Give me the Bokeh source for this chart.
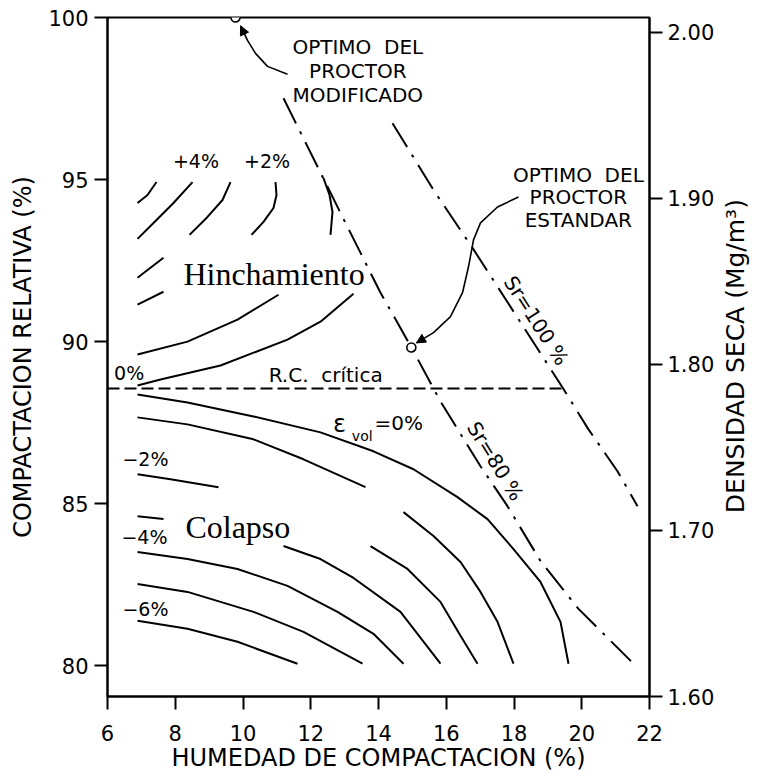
import math
from bokeh.plotting import figure
from bokeh.layouts import row
from bokeh.models import Range1d, LinearAxis, FixedTicker, PrintfTickFormatter, Arrow, NormalHead
from bokeh.core.properties import value
from bokeh.embed import file_html
from bokeh.resources import INLINE

# ---------------- data ----------------
x_ticks = [6, 8, 10, 12, 14, 16, 18, 20, 22]
y_ticks = [80, 85, 90, 95, 100]
dens_ticks = [1.60, 1.70, 1.80, 1.90, 2.00]

# swelling contours (visible pieces)
s1_x = [6.886, 7.181, 7.447];               s1_y = [94.277, 94.523, 94.923]
s2_x = [6.886, 7.358, 7.948, 8.509];        s2_y = [93.169, 93.662, 94.277, 94.923]
s3_x = [8.421, 8.952, 9.395, 9.631];        s3_y = [93.292, 93.846, 94.369, 94.923]
s4_x = [10.251, 10.605, 10.900, 10.989, 10.959]; s4_y = [93.292, 93.692, 94.123, 94.523, 94.923]
s5_x = [12.583, 12.642, 12.554, 12.376];    s5_y = [93.292, 94.000, 94.523, 95.046]
s6_x = [6.886, 7.269, 7.653];               s6_y = [91.969, 92.277, 92.585]
s7_x = [6.886, 7.653];                      s7_y = [91.138, 91.538]
s8_x = [6.886, 8.362, 9.838, 11.048];       s8_y = [89.600, 90.000, 90.677, 91.446]
s9_x = [6.886, 7.565, 9.336, 11.314, 12.288, 13.262]
s9_y = [88.646, 88.831, 89.262, 90.062, 90.615, 91.477]

# collapse contours
k1_x = [6.886, 8.362, 10.310, 12.288, 13.852, 15.033, 16.332, 17.218, 17.985, 18.782, 19.373, 19.609]
k1_y = [88.369, 88.123, 87.692, 87.200, 86.615, 86.062, 85.200, 84.523, 83.600, 82.585, 81.354, 80.062]
k2_x = [6.886, 8.362, 10.310, 11.786, 13.616]
k2_y = [87.662, 87.446, 86.985, 86.369, 85.508]
k3_x = [14.738, 15.624, 16.421, 17.011, 17.513, 17.985]
k3_y = [84.738, 84.000, 83.200, 82.277, 81.354, 80.062]
k4_x = [6.886, 7.860, 9.277];               k4_y = [85.908, 85.754, 85.508]
k5_x = [6.886, 7.653];                      k5_y = [84.615, 84.523]
k6_x = [13.764, 14.856, 15.830, 16.421, 16.923]
k6_y = [83.692, 82.985, 81.969, 80.923, 80.062]
k7_x = [11.196, 12.288, 13.262, 14.649, 15.830]
k7_y = [83.692, 83.292, 82.708, 81.662, 80.062]
k8_x = [6.886, 8.362, 9.838, 11.314, 12.790, 13.852, 14.738]
k8_y = [83.508, 83.292, 82.985, 82.462, 81.662, 80.985, 80.062]
k9_x = [6.886, 8.362, 10.310, 11.786, 13.528]
k9_y = [82.523, 82.277, 81.662, 81.046, 80.062]
k10_x = [6.886, 8.362, 9.838, 11.609]
k10_y = [81.385, 81.138, 80.738, 80.062]

# saturation lines
sr80_x = [11.196, 13.026, 14.059, 14.974, 15.830, 17.011, 17.808, 18.782, 19.904, 21.528]
sr80_y = [97.508, 93.662, 91.508, 89.815, 88.154, 86.154, 84.923, 83.231, 81.754, 80.062]
sr100_x = [14.413, 15.624, 16.775, 19.432, 20.199, 21.055, 21.646]
sr100_y = [96.738, 94.677, 92.892, 88.585, 87.292, 86.000, 84.923]

# critical relative compaction
rc_x = [6.0, 19.43]
rc_y = [88.55, 88.55]

# proctor optima
opt_x = [9.78, 14.97]
opt_y = [100.0, 89.82]

# leader curves
lead_mod_x = [11.314, 10.723, 10.369, 10.133, 9.930]
lead_mod_y = [98.246, 98.492, 98.892, 99.292, 99.740]
lead_std_x = [18.133, 17.513, 17.011, 16.805, 16.657, 16.480, 16.125, 15.624, 15.120]
lead_std_y = [94.462, 94.154, 93.662, 93.138, 92.308, 91.508, 90.769, 90.277, 89.960]

swell = [(s1_x, s1_y), (s2_x, s2_y), (s3_x, s3_y), (s4_x, s4_y), (s5_x, s5_y),
         (s6_x, s6_y), (s7_x, s7_y), (s8_x, s8_y), (s9_x, s9_y)]
collapse = [(k1_x, k1_y), (k2_x, k2_y), (k3_x, k3_y), (k4_x, k4_y), (k5_x, k5_y),
            (k6_x, k6_y), (k7_x, k7_y), (k8_x, k8_y), (k9_x, k9_y), (k10_x, k10_y)]

# ---------------- main figure ----------------
FONT = "DejaVu Sans"
p = figure(width=720, height=774, x_range=Range1d(6, 22), y_range=Range1d(79.05, 100),
           output_backend="svg", toolbar_location=None,
           min_border_left=107, min_border_right=71, min_border_top=17, min_border_bottom=76)
p.extra_y_ranges = {"dens": Range1d(1.60, 2.009)}
p.grid.visible = False
p.outline_line_color = "black"
p.outline_line_width = 2
p.background_fill_color = "white"
p.border_fill_color = "white"

right = LinearAxis(y_range_name="dens")
p.add_layout(right, "right")

def style(ax, lab_standoff, axis_standoff):
    ax.axis_line_width = 2
    ax.axis_line_color = "black"
    ax.major_tick_line_width = 2
    ax.major_tick_line_color = "black"
    ax.major_tick_out = 13
    ax.major_tick_in = 0
    ax.minor_tick_line_color = None
    ax.major_label_text_font = FONT
    ax.major_label_text_font_size = "21px"
    ax.major_label_text_color = "black"
    ax.major_label_standoff = lab_standoff
    ax.axis_label_text_font = FONT
    ax.axis_label_text_font_size = "24px"
    ax.axis_label_text_font_style = "normal"
    ax.axis_label_text_color = "black"
    ax.axis_label_standoff = axis_standoff

xa = p.xaxis[0]
ya = p.yaxis[0]
style(xa, 15, 0)
style(ya, 6, 8)
style(right, 5, 8)
xa.ticker = FixedTicker(ticks=x_ticks)
ya.ticker = FixedTicker(ticks=y_ticks)
right.ticker = FixedTicker(ticks=dens_ticks)
right.formatter = PrintfTickFormatter(format="%.2f")
xa.axis_label = "HUMEDAD DE COMPACTACION (%)"
ya.axis_label = "COMPACTACION RELATIVA (%)"

# contours
for cx, cy in swell + collapse:
    p.line(cx, cy, line_color="black", line_width=2)

# saturation lines
p.line(sr80_x, sr80_y, line_color="black", line_width=2, line_dash="28 9 3 9")
p.line(sr100_x, sr100_y, line_color="black", line_width=2, line_dash="28 9 3 9")

# critical RC
p.line(rc_x, rc_y, line_color="black", line_width=2, line_dash="12 5")

# leaders
p.line(lead_mod_x, lead_mod_y, line_color="black", line_width=1.6)
p.line(lead_std_x, lead_std_y, line_color="black", line_width=1.6)
p.add_layout(Arrow(end=NormalHead(size=9, fill_color="black", line_color="black"),
                   x_start=lead_mod_x[-2], y_start=lead_mod_y[-2],
                   x_end=lead_mod_x[-1], y_end=lead_mod_y[-1], line_alpha=0))
p.add_layout(Arrow(end=NormalHead(size=9, fill_color="black", line_color="black"),
                   x_start=lead_std_x[-2], y_start=lead_std_y[-2],
                   x_end=lead_std_x[-1], y_end=lead_std_y[-1], line_alpha=0))

# optimum points
p.scatter(opt_x, opt_y, size=9, marker="circle", fill_color="white",
          line_color="black", line_width=1.6)

# ---------------- texts ----------------
def txt(fig, x, y, t, size="20px", font=FONT, align="center", baseline="middle", angle=0.0):
    fig.text(x=[x], y=[y], text=[t], text_font=value(font), text_font_size=value(size),
             text_align=align, text_baseline=baseline, angle=angle, text_color="black")

NB = "\u00a0"
txt(p, 8.61, 95.57, "+4%", size="19px")
txt(p, 10.71, 95.57, "+2%", size="19px")
txt(p, 6.64, 89.02, "0%", size="19px")
txt(p, 12.44, 88.98, "R.C." + NB + " crítica")
txt(p, 12.85, 87.45, "ε", size="24px")
txt(p, 13.52, 87.10, "vol", size="14px")
txt(p, 14.60, 87.48, "=0%")
txt(p, 7.12, 86.37, "−2%", size="19px")
txt(p, 7.09, 83.97, "−4%", size="19px")
txt(p, 7.12, 81.75, "−6%", size="19px")

txt(p, 13.39, 99.09, "OPTIMO" + NB + " DEL")
txt(p, 13.39, 98.35, "PROCTOR")
txt(p, 13.39, 97.62, "MODIFICADO")

txt(p, 19.90, 95.15, "OPTIMO" + NB + " DEL")
txt(p, 19.90, 94.45, "PROCTOR")
txt(p, 19.90, 93.74, "ESTANDAR")

txt(p, 18.66, 90.65, "Sr=100 %", angle=-1.00)
txt(p, 17.45, 86.31, "Sr=80 %", angle=-1.02)

txt(p, 8.24, 92.09, "Hinchamiento", size="32px", font="Liberation Serif",
    align="left", baseline="alphabetic")
txt(p, 8.30, 84.28, "Colapso", size="32px", font="Liberation Serif",
    align="left", baseline="alphabetic")

# ---------------- narrow strip holding the right-hand axis title ----------------
q = figure(width=39, height=774, x_range=Range1d(0, 39), y_range=Range1d(0, 774),
           output_backend="svg", toolbar_location=None,
           min_border=0, min_border_left=0, min_border_right=0,
           min_border_top=0, min_border_bottom=0)
q.axis.visible = False
q.grid.visible = False
q.outline_line_color = None
q.background_fill_color = "white"
q.border_fill_color = "white"
txt(q, 15, 388, "DENSIDAD SECA (Mg/m³)", size="25px", angle=math.pi / 2)

layout = row(p, q, spacing=0)
open("out.html", "w").write(file_html(layout, INLINE))
